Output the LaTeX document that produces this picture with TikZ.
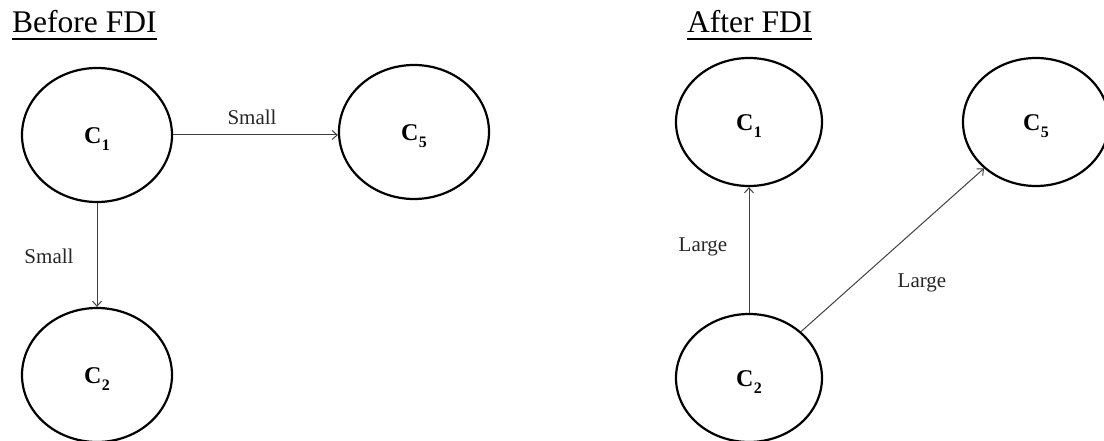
\documentclass[tikz,border=0pt]{standalone}
\usepackage{fontspec}
\setmainfont{Liberation Serif}
\usetikzlibrary{arrows.meta,shapes.geometric}
\newcommand{\cl}[1]{\textbf{C\kern0.02em\raisebox{-0.28em}{\fontsize{16}{16}\selectfont #1}}}
\begin{document}
\begin{tikzpicture}[x=1pt,y=-1pt,
  cnode/.style={draw=black,line width=2.2pt,ellipse,inner sep=0pt},
  lft/.style={cnode,minimum width=150pt,minimum height=134pt},
  rgt/.style={cnode,minimum width=146pt,minimum height=128pt},
  clab/.style={inner sep=0pt,font=\fontsize{24}{26}\selectfont},
  conn/.style={draw=black!75,line width=1pt,-{Straight Barb[length=5pt,width=9pt]}},
  lab/.style={inner sep=0pt,font=\fontsize{21}{23}\selectfont,text=black!85},
  ttl/.style={inner sep=0pt,anchor=base west,font=\fontsize{31.5}{33}\selectfont},
  uline/.style={line width=2.2pt}]
\useasboundingbox (0,0) rectangle (1104,441);
% Before
\node[ttl] (tb) at (12,33) {Before FDI};
\draw[uline] ([yshift=-6pt]tb.base west) -- ([yshift=-6pt]tb.base east);
\node[lft] (b1) at (97,135) {};
\node[lft] (b5) at (414,132) {};
\node[lft] (b2) at (97,375) {};
\node[clab] (tb1) at ([yshift=-4pt]b1.center) {\cl{1}};
\node[clab] (tb5) at ([yshift=-4pt]b5.center) {\cl{5}};
\node[clab] (tb2) at ([yshift=-4pt]b2.center) {\cl{2}};
\draw[conn] (b1.east) -- (b1.east -| b5.west);
\draw[conn] (b1.south) -- (b2.north);
\node[lab] (ls1) at (252,117) {Small};
\node[lab] (ls2) at (49,256) {Small};
% After
\node[ttl] (ta) at (687,33) {After FDI};
\draw[uline] ([yshift=-6pt]ta.base west) -- ([yshift=-6pt]ta.base east);
\node[rgt] (a1) at (749,122) {};
\node[rgt] (a5) at (1036,122) {};
\node[rgt] (a2) at (749,378) {};
\node[clab] (ta1) at ([yshift=-4pt]a1.center) {\cl{1}};
\node[clab] (ta5) at ([yshift=-4pt]a5.center) {\cl{5}};
\node[clab] (ta2) at ([yshift=-4pt]a2.center) {\cl{2}};
\draw[conn] (a2.north) -- (a1.south);
\draw[conn] (a2) -- (a5);
\node[lab] (ll1) at (703,247) {Large};
\node[lab] (ll2) at (922,283) {Large};
\end{tikzpicture}
\end{document}
